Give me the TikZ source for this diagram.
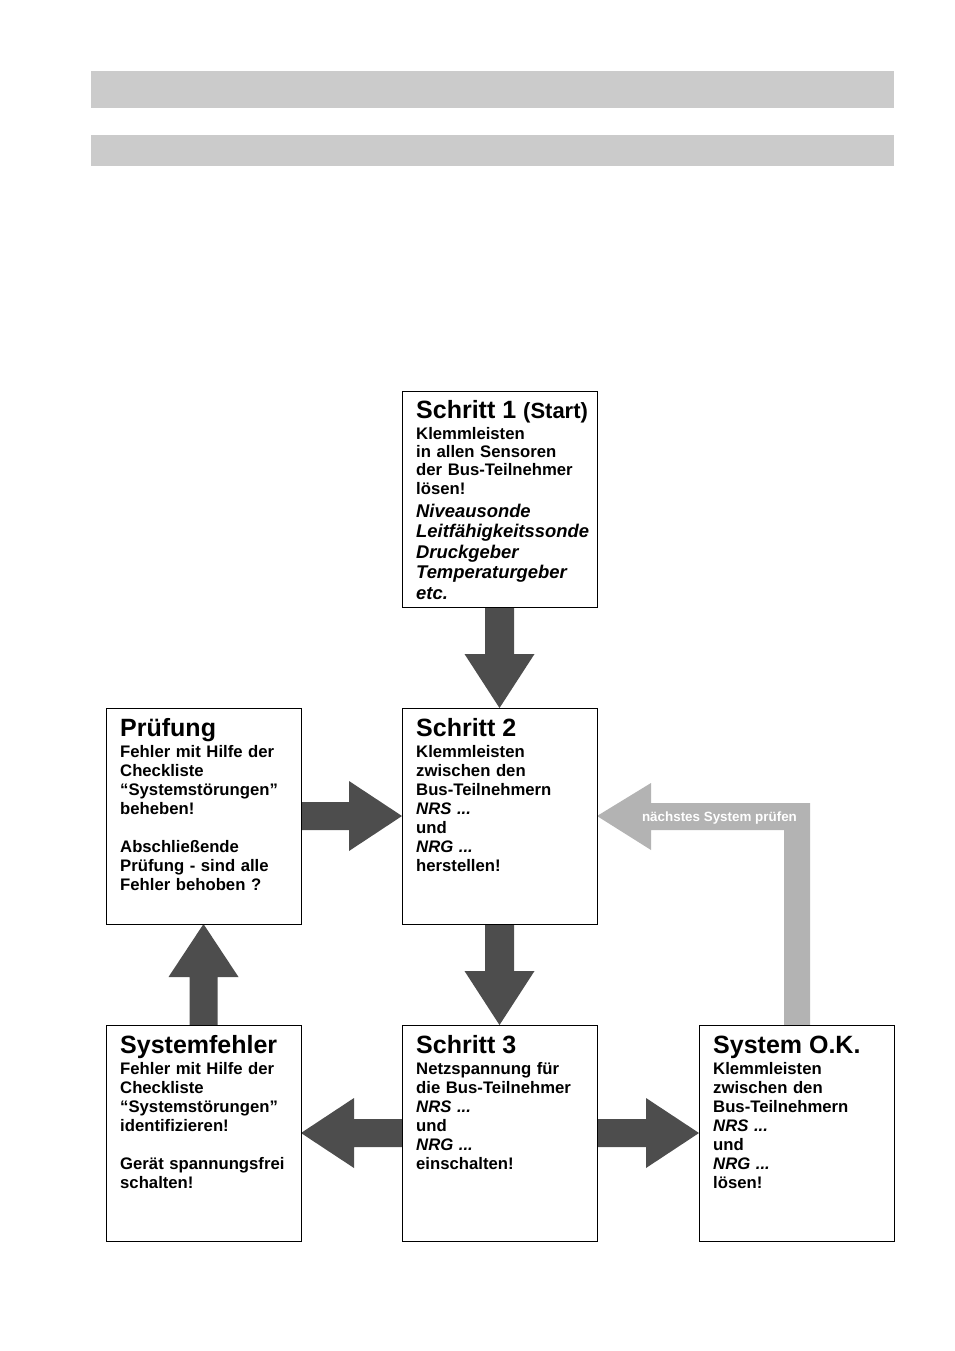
\documentclass[tikz,border=0pt]{standalone}
\usepackage{fontspec}
\setmainfont{Liberation Sans}
\usetikzlibrary{backgrounds}
\definecolor{bargray}{HTML}{CBCBCB}
\definecolor{darkarrow}{HTML}{4D4D4D}
\definecolor{lightarrow}{HTML}{B3B3B3}
\begin{document}
\begin{tikzpicture}[x=1pt,y=-1pt,
  box/.style={draw=black, line width=1pt, minimum width=195pt, minimum height=216pt, inner sep=0pt, outer sep=0pt},
  ttl/.style={anchor=base west, inner sep=0pt, font=\bfseries\fontsize{25}{28}\selectfont},
  bod/.style={anchor=base west, inner sep=0pt, text width=185pt, align=left, font=\bfseries\fontsize{16.7}{19}\selectfont},
  darr/.style={fill=darkarrow},
  larr/.style={fill=lightarrow}]
\useasboundingbox (0,0) rectangle (954,1351);
% header bars
\fill[bargray] (91,71) rectangle (894,108);
\fill[bargray] (91,135) rectangle (894,166);
% boxes
\node[box] (s1) at (499.5,499) {};
\node[box] (s2) at (499.5,816) {};
\node[box] (pr) at (203.5,816) {};
\node[box] (sf) at (203.5,1133) {};
\node[box] (s3) at (499.5,1133) {};
\node[box] (ok) at (796.5,1133) {};
% Schritt 1
\node[ttl] (s1t) at ([shift={(14,27)}]s1.north west) {Schritt 1 {\fontsize{22}{22}\selectfont(Start)}};
\node[bod, font=\bfseries\fontsize{16.7}{18.4}\selectfont] (s1b) at ([shift={(14,48)}]s1.north west) {Klemmleisten\\in allen Sensoren\\der Bus-Teilnehmer\\lösen!};
\node[bod, font=\bfseries\itshape\fontsize{18.4}{20.6}\selectfont] (s1i) at ([shift={(14,126)}]s1.north west) {Niveausonde\\Leitfähigkeitssonde\\Druckgeber\\Temperaturgeber\\etc.};
% Schritt 2
\node[ttl] (s2t) at ([shift={(14,28)}]s2.north west) {Schritt 2};
\node[bod] (s2b) at ([shift={(14,49)}]s2.north west) {Klemmleisten\\zwischen den\\Bus-Teilnehmern\\\textit{NRS ...}\\und\\\textit{NRG ...}\\herstellen!};
% Pruefung
\node[ttl] (prt) at ([shift={(14,28)}]pr.north west) {Prüfung};
\node[bod] (prb) at ([shift={(14,49)}]pr.north west) {Fehler mit Hilfe der\\Checkliste\\“Systemstörungen”\\beheben!\\[19pt]Abschließende\\Prüfung - sind alle\\Fehler behoben ?};
% Systemfehler
\node[ttl] (sft) at ([shift={(14,28)}]sf.north west) {Systemfehler};
\node[bod] (sfb) at ([shift={(14,49)}]sf.north west) {Fehler mit Hilfe der\\Checkliste\\“Systemstörungen”\\identifizieren!\\[19pt]Gerät spannungsfrei\\schalten!};
% Schritt 3
\node[ttl] (s3t) at ([shift={(14,28)}]s3.north west) {Schritt 3};
\node[bod] (s3b) at ([shift={(14,49)}]s3.north west) {Netzspannung für\\die Bus-Teilnehmer\\\textit{NRS ...}\\und\\\textit{NRG ...}\\einschalten!};
% System OK
\node[ttl] (okt) at ([shift={(14,28)}]ok.north west) {System O.K.};
\node[bod] (okb) at ([shift={(14,49)}]ok.north west) {Klemmleisten\\zwischen den\\Bus-Teilnehmern\\\textit{NRS ...}\\und\\\textit{NRG ...}\\lösen!};
% arrows
\begin{scope}[on background layer]
\fill[darr] (s1.south) ++(-14.5,0) -- ++(0,47) -- ++(-20.5,0) -- (s2.north) -- ++(35,-54) -- ++(-20.5,0) -- ++(0,-47) -- cycle;
\fill[darr] (s2.south) ++(-14.5,0) -- ++(0,47) -- ++(-20.5,0) -- (s3.north) -- ++(35,-54) -- ++(-20.5,0) -- ++(0,-47) -- cycle;
\fill[darr] (pr.east) ++(0,-14) -- ++(48,0) -- ++(0,-21) -- (s2.west) -- ++(-53,35) -- ++(0,-21) -- ++(-48,0) -- cycle;
\fill[darr] (sf.north) ++(-14,0) -- ++(0,-48) -- ++(-21,0) -- (pr.south) -- ++(35,53) -- ++(-21,0) -- ++(0,48) -- cycle;
\fill[darr] (s3.west) ++(0,-14) -- ++(-48,0) -- ++(0,-21) -- (sf.east) -- ++(53,35) -- ++(0,-21) -- ++(48,0) -- cycle;
\fill[darr] (s3.east) ++(0,-14) -- ++(49,0) -- ++(0,-21) -- (ok.west) -- ++(-53,35) -- ++(0,-21) -- ++(-49,0) -- cycle;
\fill[larr] (ok.north) ++(13.5,0) -- ++(0,-222) -- ++(-159,0) -- ++(0,-20) -- (s2.east) -- ++(54,34) -- ++(0,-20) -- ++(133,0) -- ++(0,195) -- cycle;
\end{scope}
\node[inner sep=0pt, text=white, font=\bfseries\fontsize{13.4}{14}\selectfont] (nsp) at (719.5,818.5) {nächstes System prüfen};
\end{tikzpicture}
\end{document}
